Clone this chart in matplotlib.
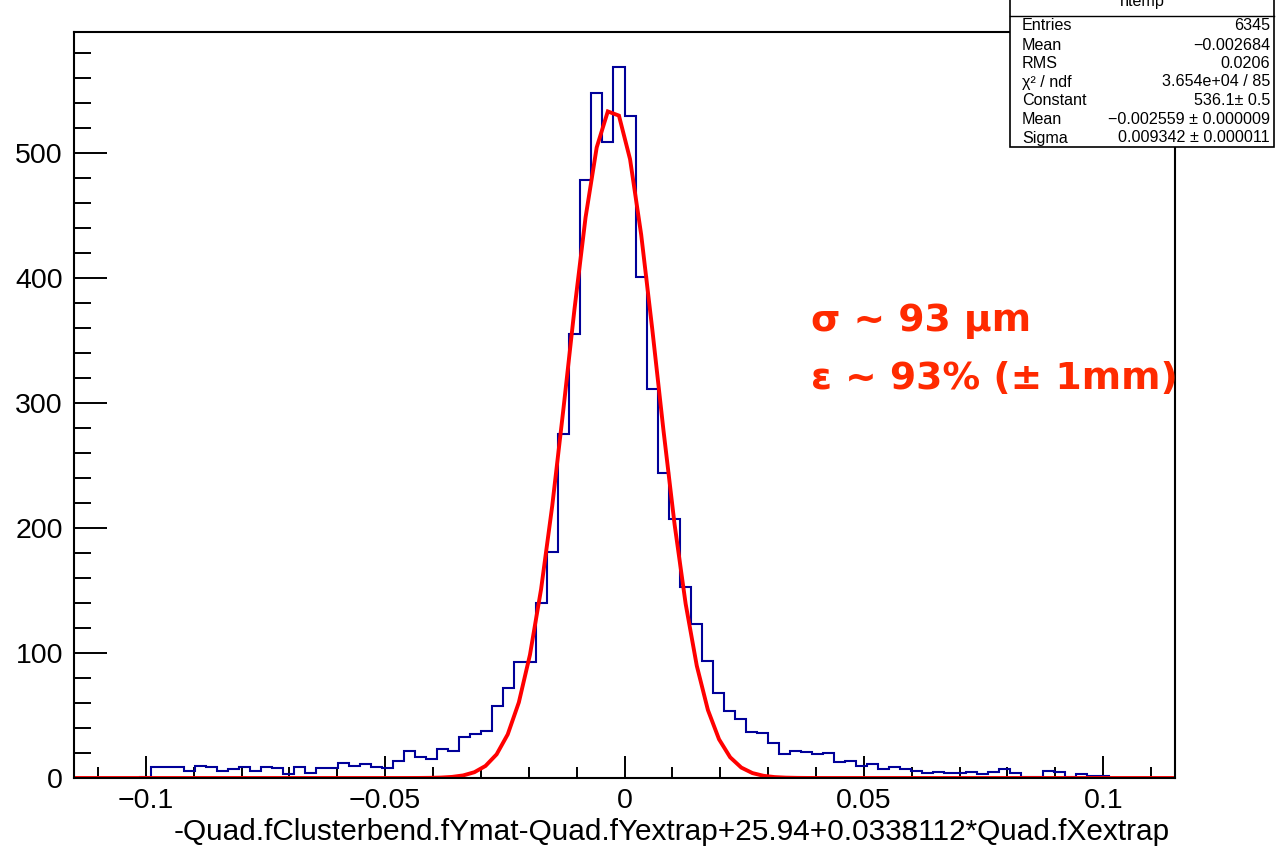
import numpy as np
import matplotlib
matplotlib.use('Agg')
import matplotlib.pyplot as plt
from matplotlib.patches import Rectangle
from matplotlib.lines import Line2D
from matplotlib.ticker import FixedLocator, FixedFormatter, MultipleLocator

# ---------------- data ----------------
x_min, x_max, n_bins = -0.115, 0.115, 100
counts = [
    0, 0, 0, 0, 0, 0, 1, 9, 9, 9,
    6, 10, 9, 6, 7, 9, 6, 9, 8, 3,
    9, 4, 8, 8, 12, 10, 11, 9, 8, 14,
    22, 17, 15, 23, 22, 33, 35, 38, 58, 72,
    93, 93, 140, 181, 275, 355, 479, 548, 509, 569,
    530, 401, 311, 244, 207, 153, 123, 94, 68, 54,
    47, 37, 36, 28, 19, 22, 21, 19, 20, 13,
    14, 10, 11, 7, 9, 7, 6, 4, 5, 4,
    4, 5, 3, 5, 7, 4, 1, 1, 6, 5,
    1, 3, 2, 2, 0, 0, 0, 0, 0, 0,
]
fit_constant = 536.1
fit_mean = -0.002559
fit_sigma = 0.009342

x_tick_values = [-0.1, -0.05, 0.0, 0.05, 0.1]
x_tick_labels = ['\u22120.1', '\u22120.05', '0', '0.05', '0.1']
y_tick_values = [0, 100, 200, 300, 400, 500]
y_tick_labels = ['0', '100', '200', '300', '400', '500']
x_title = '-Quad.fClusterbend.fYmat-Quad.fYextrap+25.94+0.0338112*Quad.fXextrap'

stats_title = 'htemp'
stats_labels = ['Entries', 'Mean', 'RMS', '\u03c7\u00b2 / ndf', 'Constant', 'Mean', 'Sigma']
stats_values = ['6345', '\u22120.002684', '0.0206', '3.654e+04 / 85',
                '536.1\u00b1 0.5', '\u22120.002559 \u00b1 0.000009', '0.009342 \u00b1 0.000011']

note_lines = ['\u03c3 ~ 93 \u03bcm', '\u03b5 ~ 93% (\u00b1 1mm)']

# ---------------- figure ----------------
plt.rcParams['font.family'] = ['Liberation Sans', 'DejaVu Sans']
W, H = 1279, 851
fig = plt.figure(figsize=(W / 100, H / 100), dpi=100)
fig.patch.set_facecolor('white')

def fx(px):
    return px / W

def fy(py):
    return 1 - py / H

ax_left, ax_right, ax_top, ax_bottom = 74, 1175, 31.5, 778
ax = fig.add_axes([fx(ax_left), fy(ax_bottom), fx(ax_right - ax_left), (ax_bottom - ax_top) / H])

edges = np.linspace(x_min, x_max, n_bins + 1)
ax.stairs(counts, edges, color='#000099', lw=1.5, baseline=0, zorder=2)

xs = np.linspace(x_min, x_max, 100)
ys = fit_constant * np.exp(-0.5 * ((xs - fit_mean) / fit_sigma) ** 2)
ax.plot(xs, ys, color='#ff0000', lw=2.8, zorder=3, solid_joinstyle='miter')

ax.set_xlim(x_min, x_max)
ax.set_ylim(0, 1.05 * max(counts))

ax.xaxis.set_major_locator(FixedLocator(x_tick_values))
ax.xaxis.set_major_formatter(FixedFormatter(x_tick_labels))
ax.xaxis.set_minor_locator(MultipleLocator(0.01))
ax.yaxis.set_major_locator(FixedLocator(y_tick_values))
ax.yaxis.set_major_formatter(FixedFormatter(y_tick_labels))
ax.yaxis.set_minor_locator(MultipleLocator(20))

ax.tick_params(axis='x', which='major', direction='in', length=15.8, width=1.4,
               labelsize=20.5, pad=7, top=False, colors='black')
ax.tick_params(axis='x', which='minor', direction='in', length=7.9, width=1.4, top=False)
ax.tick_params(axis='y', which='major', direction='in', length=23.8, width=1.4,
               labelsize=20.5, pad=8, right=False)
ax.tick_params(axis='y', which='minor', direction='in', length=11.9, width=1.4, right=False)

for s in ax.spines.values():
    s.set_linewidth(1.5)
    s.set_color('black')
    s.set_zorder(4)

# x axis title
fig.text(fx(1170), fy(832), x_title, ha='right', va='center', fontsize=21.4)

# red annotation
note_color = '#ff2a00'
fig.text(fx(811), fy(331), note_lines[0], color=note_color, fontsize=27.2,
         fontweight='bold', family=['DejaVu Sans'], ha='left', va='baseline')
fig.text(fx(811), fy(389), note_lines[1], color=note_color, fontsize=27.2,
         fontweight='bold', family=['DejaVu Sans'], ha='left', va='baseline')

# stats box
bx0, bx1, by0, by1 = 1010, 1274, -20, 146.5
box = Rectangle((fx(bx0), fy(by1)), fx(bx1 - bx0), (by1 - by0) / H,
                transform=fig.transFigure, facecolor='white', edgecolor='black',
                lw=1.2, zorder=5)
fig.add_artist(box)
fig.add_artist(Line2D([fx(bx0), fx(bx1)], [fy(15.5), fy(15.5)], transform=fig.transFigure,
                      color='black', lw=1.0, zorder=6))
fig.text(fx((bx0 + bx1) / 2), fy(6), stats_title, ha='center', va='baseline',
         fontsize=11.6, zorder=7)
row_y = [25.5, 45, 63.5, 82, 100.5, 119.5, 138]
for yy, lab, val in zip(row_y, stats_labels, stats_values):
    fig.text(fx(1022), fy(yy), lab, ha='left', va='center', fontsize=11.6, zorder=7)
    fig.text(fx(1270), fy(yy), val, ha='right', va='center', fontsize=11.6, zorder=7)

fig.savefig('out.png', dpi=100, facecolor='white')
